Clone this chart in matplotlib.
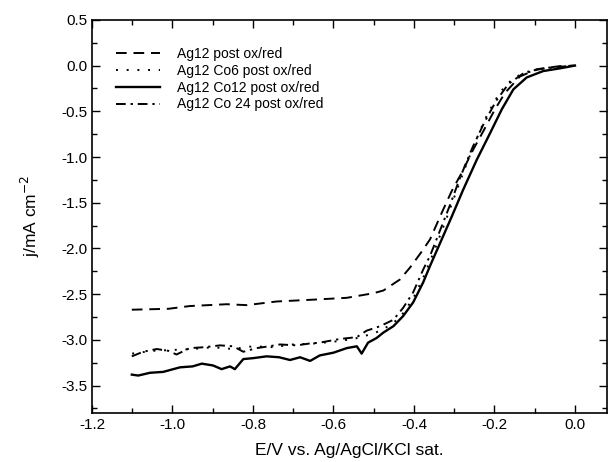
import matplotlib
matplotlib.use("Agg")
import matplotlib.pyplot as plt
from matplotlib.ticker import MultipleLocator

plt.rcParams['font.family'] = ['Liberation Sans', 'DejaVu Sans']

# Ag12 post ox/red (dashed)
e_ag12 = [-1.101, -1.010, -0.957, -0.865, -0.816, -0.741, -0.650, -0.567, -0.501, -0.476,
          -0.435, -0.410, -0.380, -0.360, -0.331, -0.306, -0.281, -0.253, -0.228, -0.199,
          -0.174, -0.137, -0.095, -0.045, 0.0]
j_ag12 = [-2.67, -2.66, -2.63, -2.61, -2.62, -2.58, -2.56, -2.54, -2.49, -2.46,
          -2.34, -2.21, -2.03, -1.90, -1.61, -1.37, -1.17, -0.92, -0.72, -0.48,
          -0.30, -0.12, -0.04, -0.01, 0.0]

# Ag12 Co6 post ox/red (dotted)
e_co6 = [-1.10, -1.05, -1.00, -0.95, -0.90, -0.85, -0.80, -0.75, -0.70, -0.65, -0.60,
         -0.55, -0.50, -0.475, -0.45, -0.425, -0.40, -0.375, -0.35, -0.325, -0.30,
         -0.275, -0.25, -0.225, -0.20, -0.175, -0.15, -0.12, -0.08, -0.04, 0.0]
j_co6 = [-3.15, -3.12, -3.11, -3.10, -3.08, -3.10, -3.07, -3.08, -3.05, -3.04, -3.02,
         -2.99, -2.93, -2.88, -2.81, -2.70, -2.53, -2.30, -2.03, -1.74, -1.44,
         -1.14, -0.86, -0.60, -0.39, -0.23, -0.13, -0.07, -0.03, -0.01, 0.0]

# Ag12 Co12 post ox/red (solid)
e_co12 = [-1.101, -1.085, -1.056, -1.023, -0.981, -0.950, -0.927, -0.899, -0.878, -0.857,
          -0.845, -0.824, -0.800, -0.766, -0.735, -0.708, -0.683, -0.658, -0.634, -0.600,
          -0.567, -0.542, -0.530, -0.514, -0.493, -0.476, -0.451, -0.427, -0.402, -0.377,
          -0.360, -0.335, -0.306, -0.278, -0.244, -0.211, -0.182, -0.153, -0.120, -0.079,
          -0.037, 0.0]
j_co12 = [-3.38, -3.39, -3.36, -3.35, -3.30, -3.29, -3.26, -3.28, -3.32, -3.29,
          -3.32, -3.21, -3.20, -3.18, -3.19, -3.22, -3.19, -3.23, -3.17, -3.14,
          -3.09, -3.07, -3.15, -3.03, -2.98, -2.92, -2.85, -2.74, -2.59, -2.37,
          -2.19, -1.94, -1.65, -1.36, -1.03, -0.74, -0.48, -0.26, -0.13, -0.06,
          -0.03, 0.0]

# Ag12 Co 24 post ox/red (dash-dot)
e_co24 = [-1.101, -1.073, -1.039, -1.010, -0.990, -0.957, -0.920, -0.882, -0.849, -0.824,
          -0.791, -0.760, -0.733, -0.691, -0.660, -0.634, -0.584, -0.542, -0.518, -0.484,
          -0.451, -0.427, -0.402, -0.377, -0.360, -0.335, -0.310, -0.285, -0.255, -0.225,
          -0.195, -0.165, -0.130, -0.090, -0.045, 0.0]
j_co24 = [-3.18, -3.13, -3.10, -3.12, -3.16, -3.09, -3.08, -3.06, -3.07, -3.13,
          -3.09, -3.07, -3.05, -3.06, -3.04, -3.03, -2.99, -2.97, -2.90, -2.85,
          -2.78, -2.65, -2.48, -2.23, -2.08, -1.80, -1.52, -1.22, -0.90, -0.62,
          -0.38, -0.20, -0.09, -0.04, -0.015, 0.0]

labels = ["Ag12 post ox/red", "Ag12 Co6 post ox/red", "Ag12 Co12 post ox/red", "Ag12 Co 24 post ox/red"]

fig = plt.figure(figsize=(6.09, 4.62), dpi=100)
ax = fig.add_axes([0.151, 0.106, 0.846, 0.851])

lw = 1.4
ax.plot(e_ag12, j_ag12, color='black', lw=lw, linestyle=(0, (5.5, 3.5)), label=labels[0])
ax.plot(e_co6, j_co6, color='black', lw=lw, linestyle=(0, (1, 4.5)), label=labels[1])
ax.plot(e_co12, j_co12, color='black', lw=lw + 0.3, linestyle='-', label=labels[2])
ax.plot(e_co24, j_co24, color='black', lw=lw, linestyle=(0, (5, 2.5, 1.2, 2.5)), label=labels[3])

ax.set_xlim(-1.2, 0.08)
ax.set_ylim(-3.8, 0.5)
ax.xaxis.set_major_locator(MultipleLocator(0.2))
ax.xaxis.set_minor_locator(MultipleLocator(0.1))
ax.yaxis.set_major_locator(MultipleLocator(0.5))
ax.yaxis.set_minor_locator(MultipleLocator(0.25))
ax.tick_params(which='both', direction='in', top=True, right=True, labelsize=11, width=1)
ax.tick_params(which='major', length=6)
ax.tick_params(which='minor', length=3.5)
for s in ax.spines.values():
    s.set_linewidth(1.2)

ax.set_xticklabels([f"{v:.1f}" for v in ax.get_xticks()])
ax.set_yticklabels([f"{v:.1f}" for v in ax.get_yticks()])

ax.set_xlabel("E/V vs. Ag/AgCl/KCl sat.", fontsize=12.5, labelpad=8)
ax.set_ylabel("j/mA cm$^{-2}$", fontsize=12.5, labelpad=14)

leg = ax.legend(loc='upper left', bbox_to_anchor=(0.035, 0.945), frameon=False, fontsize=10,
                handlelength=3.2, handletextpad=1.2, labelspacing=0.2, borderaxespad=0)

fig.savefig("out.png", dpi=100)
